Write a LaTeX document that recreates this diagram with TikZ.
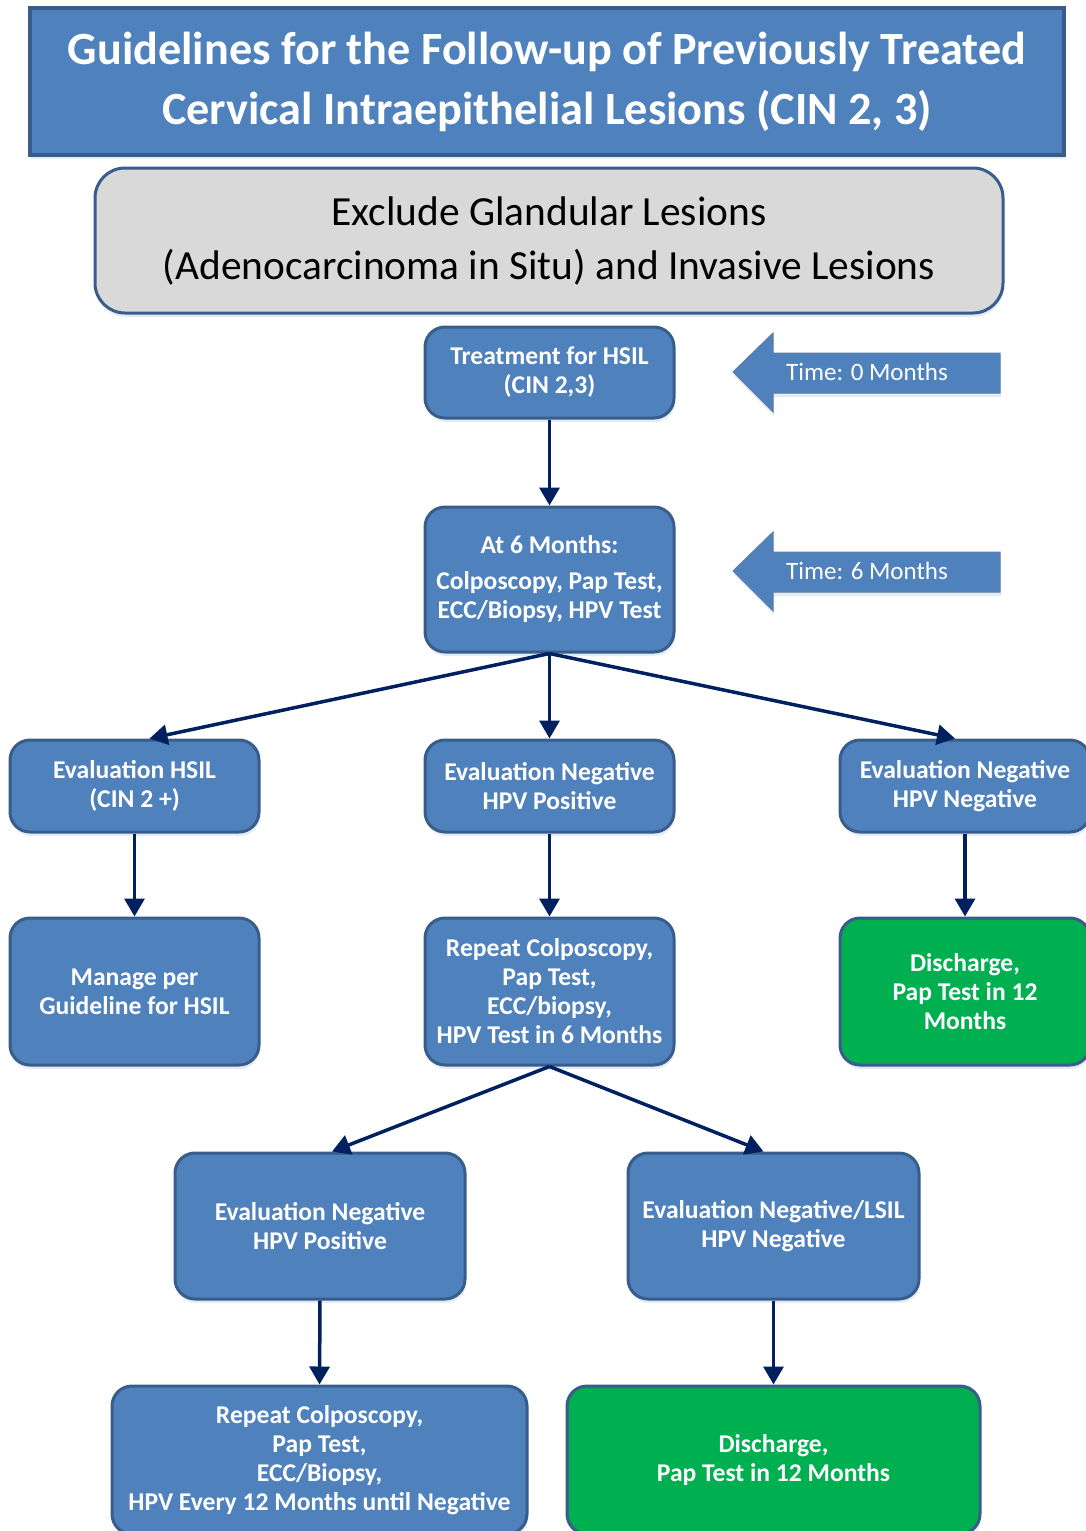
\documentclass[tikz,border=0pt]{standalone}
\usepackage{fontspec}
\setmainfont{Carlito}
\usetikzlibrary{arrows.meta,shadows}
\definecolor{boxblue}{HTML}{4F81BD}
\definecolor{boxedge}{HTML}{385D8A}
\definecolor{navy}{HTML}{002060}
\definecolor{okgreen}{HTML}{00B050}
\definecolor{lgray}{HTML}{D9D9D9}
\begin{document}
\begin{tikzpicture}[x=1pt,y=-1pt,
  shadowed/.style={drop shadow={shadow xshift=1pt,shadow yshift=-4pt,fill=boxblue!30,opacity=0.5}},
  flow/.style={shadowed,draw=boxedge,line width=3pt,fill=boxblue,rounded corners=20pt,text=white,
    font=\bfseries\fontsize{25.6}{29}\selectfont,align=center,inner sep=0pt},
  okbox/.style={flow,fill=okgreen},
  titlebox/.style={shadowed,draw=boxedge,line width=3.5pt,fill=boxblue,text=white,
    font=\bfseries\fontsize{46.2}{60}\selectfont,align=center,inner sep=0pt,
    minimum width=1034pt,minimum height=147pt},
  graybox/.style={shadowed,draw=boxedge,line width=3pt,fill=lgray,rounded corners=30pt,text=black,
    font=\fontsize{41.4}{54}\selectfont,align=center,inner sep=0pt,
    minimum width=908pt,minimum height=145pt},
  conn/.style={draw=navy,line width=3.5pt,-{Triangle[length=18pt,width=20pt]}},
  timearrow/.style={shadowed,draw=boxedge!80,line width=1pt,fill=boxblue},
  timetext/.style={text=white,font=\fontsize{25}{29}\selectfont,anchor=west,inner sep=0pt}
]
\useasboundingbox (0,0) rectangle (1086,1531);

\node[titlebox] (title) at (547,81.5) {Guidelines for the Follow-up of Previously Treated\\Cervical Intraepithelial Lesions (CIN 2, 3)};
\node[graybox] (excl) at (549,240.5) {Exclude Glandular Lesions\\(Adenocarcinoma in Situ) and Invasive Lesions};

\node[flow,minimum width=249pt,minimum height=91pt] (treat) at (549.5,372.5) {Treatment for HSIL\\(CIN 2,3)};
\node[flow,minimum width=249pt,minimum height=145pt] (six) at (549.5,579.5) {At 6 Months:\\[7pt]Colposcopy, Pap Test,\\ECC/Biopsy, HPV Test};

\node[flow,minimum width=249pt,minimum height=92pt] (hsil) at (134.5,786) {Evaluation HSIL\\(CIN 2 +)};
\node[flow,minimum width=249pt,minimum height=92pt] (negpos) at (549.5,786) {Evaluation Negative\\HPV Positive};
\node[flow,minimum width=250pt,minimum height=92pt] (negneg) at (965,786) {Evaluation Negative\\HPV Negative};

\node[flow,minimum width=249pt,minimum height=147pt] (manage) at (134.5,991.5) {Manage per\\Guideline for HSIL};
\node[flow,minimum width=249pt,minimum height=147pt] (rep) at (549.5,991.5) {Repeat Colposcopy,\\Pap Test,\\ECC/biopsy,\\HPV Test in 6 Months};
\node[okbox,minimum width=250pt,minimum height=147pt] (dis1) at (965,991.5) {Discharge,\\Pap Test in 12\\Months};

\node[flow,minimum width=290pt,minimum height=146pt] (negpos2) at (320,1226) {Evaluation Negative\\HPV Positive};
\node[flow,minimum width=291pt,minimum height=146pt] (neglsil) at (773.5,1226) {Evaluation Negative/LSIL\\HPV Negative};

\node[flow,minimum width=415pt,minimum height=148pt] (rep2) at (319.5,1460) {Repeat Colposcopy,\\Pap Test,\\ECC/Biopsy,\\HPV Every 12 Months until Negative};
\node[okbox,minimum width=413pt,minimum height=148pt] (dis2) at (773.5,1460) {Discharge,\\Pap Test in 12 Months};

% time arrows
\draw[timearrow] (733,372) -- (773,333) -- (773,353) -- (1000,353) -- (1000,393) -- (773,393) -- (773,412) -- cycle;
\node[timetext] (t0) at (786,372) {Time: 0 Months};
\draw[timearrow] (733,571) -- (773,532) -- (773,552) -- (1000,552) -- (1000,592) -- (773,592) -- (773,611) -- cycle;
\node[timetext] (t6) at (786,571) {Time: 6 Months};

% connectors
\draw[conn] (treat.south) -- (six.north);
\draw[conn] (six.south) -- ([xshift=15pt]hsil.north);
\draw[conn] (six.south) -- (negpos.north);
\draw[conn] (six.south) -- ([xshift=-10pt]negneg.north);
\draw[conn] (hsil.south) -- (manage.north);
\draw[conn] (negpos.south) -- (rep.north);
\draw[conn] (negneg.south) -- (dis1.north);
\draw[conn] (rep.south) -- ([xshift=12pt]negpos2.north);
\draw[conn] (rep.south) -- ([xshift=-10pt]neglsil.north);
\draw[conn] (negpos2.south) -- (rep2.north);
\draw[conn] (neglsil.south) -- (dis2.north);
\end{tikzpicture}
\end{document}
